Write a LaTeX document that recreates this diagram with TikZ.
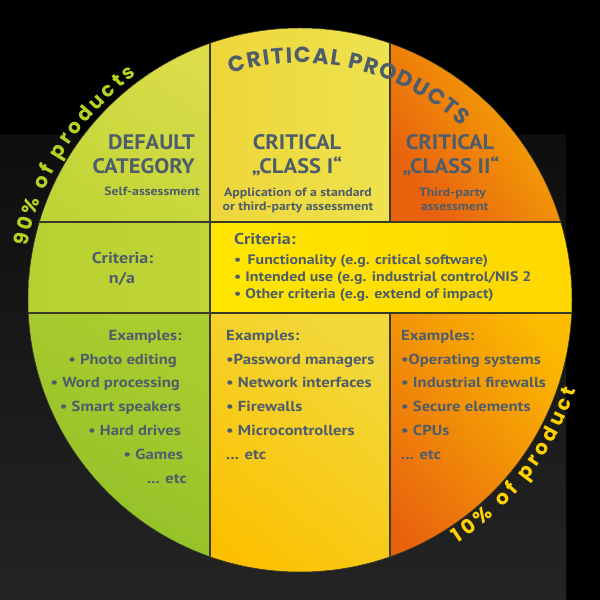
\documentclass[tikz,border=0pt]{standalone}
\usepackage{fontspec}
\setmainfont{PT Sans}[FakeStretch=1.15]
\newfontfamily\headfont{PT Sans}[FakeStretch=1.07]
\newfontfamily\pop{Poppins}
\usetikzlibrary{decorations.text}
\definecolor{txt}{HTML}{4E5D6C}
\definecolor{grn}{HTML}{B4D422}
\definecolor{ylw}{HTML}{FFD200}
\definecolor{bgtop}{HTML}{0E0E0E}
\definecolor{bgbot}{HTML}{242424}
\definecolor{gridc}{HTML}{3A3A28}
\definecolor{tlA}{HTML}{DEDE4A}\definecolor{tlB}{HTML}{BED436}
\definecolor{tmA}{HTML}{EED63A}\definecolor{tmB}{HTML}{EEE24E}
\definecolor{trA}{HTML}{FCC800}\definecolor{trB}{HTML}{E8620E}
\definecolor{mlA}{HTML}{B6D030}\definecolor{mlB}{HTML}{C2D436}
\definecolor{mmA}{HTML}{FFE600}\definecolor{mmB}{HTML}{FFD600}
\definecolor{blA}{HTML}{AACC2E}\definecolor{blB}{HTML}{8CBE28}
\definecolor{bmA}{HTML}{F2D83A}\definecolor{bmB}{HTML}{FCC000}
\definecolor{brA}{HTML}{FCBC00}\definecolor{brB}{HTML}{E8620E}
\tikzset{
  lbl/.style={text=txt, inner sep=0pt},
  head/.style={lbl, font=\headfont\fontsize{21}{21}\selectfont\bfseries},
  sub/.style={lbl, font=\fontsize{12}{14}\selectfont\bfseries},
  crit/.style={lbl, font=\fontsize{15.7}{18}\selectfont\bfseries},
  item/.style={lbl, font=\fontsize{13.8}{16}\selectfont\bfseries},
  ex/.style={lbl, font=\fontsize{14.5}{17}\selectfont\bfseries},
  gridline/.style={draw=gridc, line width=1.2pt},
}
\begin{document}
\begin{tikzpicture}[x=1pt,y=1pt]
\useasboundingbox (0,0) rectangle (600,600);
\fill[black] (0,0) rectangle (600,600);
\shade[top color=bgtop, bottom color=bgbot] (0,0) rectangle (566,465);
\coordinate (C) at (300,300);
\begin{scope}
  \clip (C) circle (272);
  % top row
  \shade[top color=tlA, bottom color=tlB, shading angle=-35] (0,378) rectangle (210,600);
  \shade[left color=tmA, right color=tmB] (210,378) rectangle (390,600);
  \shade[top color=trA, bottom color=trB, shading angle=-55] (390,378) rectangle (600,600);
  % middle row
  \shade[left color=mlA, right color=mlB] (0,287) rectangle (210,378);
  \shade[left color=mmA, right color=mmB] (210,287) rectangle (600,378);
  % bottom row
  \shade[top color=blA, bottom color=blB, shading angle=-30] (0,0) rectangle (210,287);
  \shade[top color=bmA, bottom color=bmB, shading angle=-40] (210,0) rectangle (390,287);
  \shade[top color=brA, bottom color=brB, shading angle=-50] (390,0) rectangle (600,287);
  % grid
  \draw[gridline] (210,0) -- (210,600);
  \draw[gridline] (390,378) -- (390,600);
  \draw[gridline] (390,0) -- (390,287);
  \draw[gridline] (0,378) -- (600,378);
  \draw[gridline] (0,287) -- (600,287);
\end{scope}
\draw[gridc, line width=0.5pt] (C) circle (272);

% curved texts
\path[shift={(300,300)}, decorate, decoration={text along path, text color=txt, text align=fit to path,
  text={|\pop\bfseries\fontsize{22}{22}\selectfont|CRITICAL PRODUCTS}}]
  (107:237) arc[start angle=107, end angle=47, radius=237];
\path[shift={(300,300)}, decorate, decoration={text along path, text color=grn, text align=fit to path,
  text={|\pop\bfseries\fontsize{20}{20}\selectfont|90{\%} of products}}]
  (169:278) arc[start angle=169, end angle=126, radius=278];
\path[shift={(300,300)}, decorate, decoration={text along path, text color=ylw, text align=fit to path,
  text={|\pop\bfseries\fontsize{20}{20}\selectfont|10{\%} of product}}]
  (-57:290) arc[start angle=-57, end angle=-18, radius=290];

% top row texts
\node[head, anchor=base east] (d1) at (195,450) {DEFAULT};
\node[head, anchor=base east] (d2) at (195,426.7) {CATEGORY};
\node[sub, anchor=base east] (d3) at (200,404) {Self-assessment};
\node[head, anchor=base] (c1) at (297,450) {CRITICAL};
\node[head, anchor=base] (c2) at (297,426) {„CLASS I“};
\node[sub, anchor=base] (c3) at (298,403.3) {Application of a standard};
\node[sub, anchor=base] (c4) at (298,389.3) {or third-party assessment};
\node[head, anchor=base] (k1) at (450,450) {CRITICAL};
\node[head, anchor=base] (k2) at (451,426) {„CLASS II“};
\node[sub, anchor=base] (k3) at (452.5,403.3) {Third-party};
\node[sub, anchor=base] (k4) at (454.6,389.3) {assessment};

% middle row texts
\node[crit, anchor=base] (m1) at (122.5,336.7) {Criteria:};
\node[crit, anchor=base] (m2) at (122,316.7) {n/a};
\node[crit, anchor=base west] (n0) at (234,355) {Criteria:};
\node[item, anchor=base west] (n1) at (234,335.7) {•\, Functionality (e.g. critical software)};
\node[item, anchor=base west] (n2) at (234,318.3) {• Intended use (e.g. industrial control/NIS 2};
\node[item, anchor=base west] (n3) at (234,301) {• Other criteria (e.g. extend of impact)};

% bottom row texts
\node[ex, anchor=base east] (l0) at (181.8,259.5) {Examples:};
\node[ex, anchor=base east] (l1) at (177,235.7) {• Photo editing};
\node[ex, anchor=base east] (l2) at (180,212) {• Word processing};
\node[ex, anchor=base east] (l3) at (181,188.2) {• Smart speakers};
\node[ex, anchor=base east] (l4) at (181,164.4) {• Hard drives};
\node[ex, anchor=base east] (l5) at (183,140.6) {• Games};
\node[ex, anchor=base east] (l6) at (187,116.8) {... etc};

\node[ex, anchor=base west] (p0) at (226,259.5) {Examples:};
\node[ex, anchor=base west] (p1) at (226,235.7) {•Password managers};
\node[ex, anchor=base west] (p2) at (226,212) {• Network interfaces};
\node[ex, anchor=base west] (p3) at (226,188.2) {• Firewalls};
\node[ex, anchor=base west] (p4) at (226,164.4) {• Microcontrollers};
\node[ex, anchor=base west] (p5) at (226,140.6) {... etc};

\node[ex, anchor=base west] (q0) at (401,259.5) {Examples:};
\node[ex, anchor=base west] (q1) at (401,235.7) {•Operating systems};
\node[ex, anchor=base west] (q2) at (401,212) {• Industrial firewalls};
\node[ex, anchor=base west] (q3) at (401,188.2) {• Secure elements};
\node[ex, anchor=base west] (q4) at (401,164.4) {• CPUs};
\node[ex, anchor=base west] (q5) at (401,140.6) {... etc};
\end{tikzpicture}
\end{document}
